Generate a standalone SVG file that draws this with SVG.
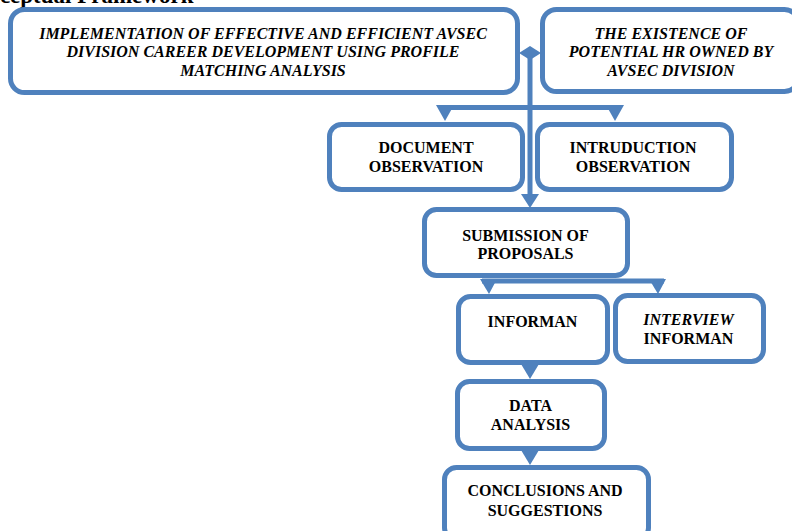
<svg xmlns="http://www.w3.org/2000/svg" width="792" height="531" viewBox="0 0 792 531">
<style>
.box{fill:#fff;stroke:#4F81BD;stroke-width:5}
.t{font-family:"Liberation Serif","Times New Roman",serif;font-weight:bold;font-size:16px;fill:#000;text-anchor:middle}
.i{font-style:italic}
.c{stroke:#4F81BD;stroke-width:5;fill:none}
.h{fill:#4F81BD;stroke:none}
</style>
<rect width="792" height="531" fill="#fff"/>
<text x="-41" y="3" style="font-family:'Liberation Serif','Times New Roman',serif;font-weight:bold;font-size:23px">Conceptual Framework</text>
<g id="n1"><rect class="box" x="10.5" y="9.5" width="507" height="83" rx="14"/>
<text class="t i" x="263" y="39">IMPLEMENTATION OF EFFECTIVE AND EFFICIENT AVSEC</text>
<text class="t i" x="263" y="57">DIVISION CAREER DEVELOPMENT USING PROFILE</text>
<text class="t i" x="263" y="75.5">MATCHING ANALYSIS</text></g>
<g id="n2"><rect class="box" x="542.5" y="9.5" width="256" height="82" rx="14"/>
<text class="t i" x="671" y="39">THE EXISTENCE OF</text>
<text class="t i" x="671" y="57">POTENTIAL HR OWNED BY</text>
<text class="t i" x="671" y="75.5">AVSEC DIVISION</text></g>
<g id="n3"><rect class="box" x="329.5" y="124.5" width="193" height="65" rx="12"/>
<text class="t" x="426" y="153">DOCUMENT</text>
<text class="t" x="426" y="172">OBSERVATION</text></g>
<g id="n4"><rect class="box" x="537.5" y="124.5" width="194" height="65" rx="12"/>
<text class="t" x="633" y="153">INTRUDUCTION</text>
<text class="t" x="633" y="172">OBSERVATION</text></g>
<g id="n5"><rect class="box" x="424.5" y="209.5" width="203" height="66" rx="12"/>
<text class="t" x="525.5" y="241">SUBMISSION OF</text>
<text class="t" x="525.5" y="258.5">PROPOSALS</text></g>
<g id="n6"><rect class="box" x="458.5" y="296.5" width="149" height="66" rx="12"/>
<text class="t" x="532.5" y="327">INFORMAN</text></g>
<g id="n7"><rect class="box" x="615.5" y="295.5" width="148" height="66" rx="12"/>
<text class="t i" x="688.5" y="325">INTERVIEW</text>
<text class="t" x="688.5" y="343.5">INFORMAN</text></g>
<g id="n8"><rect class="box" x="457.5" y="381.5" width="147" height="67" rx="12"/>
<text class="t" x="530.5" y="411">DATA</text>
<text class="t" x="530.5" y="430">ANALYSIS</text></g>
<g id="n9"><rect class="box" x="444.5" y="467.5" width="204" height="72" rx="12"/>
<text class="t" x="545" y="496">CONCLUSIONS AND</text>
<text class="t" x="545" y="516">SUGGESTIONS</text></g>
<g id="connectors">
<path class="c" d="M530 55 V196"/>
<polygon class="h" points="519,53 530,46 541,53 530,60"/>
<polygon class="h" points="521,194 539,194 530,208"/>
<path class="c" d="M440 107.5 H620"/>
<polygon class="h" points="436,105 454,105 445,121"/>
<polygon class="h" points="606,105 624,105 615,121"/>
<path class="c" d="M482 281 H664"/>
<polygon class="h" points="480,279 497,279 489,294"/>
<polygon class="h" points="649,279 666,279 658,294"/>
<polygon class="h" points="521,364 539,364 530,379"/>
<polygon class="h" points="521,450 539,450 530,465"/>
</g>
</svg>
